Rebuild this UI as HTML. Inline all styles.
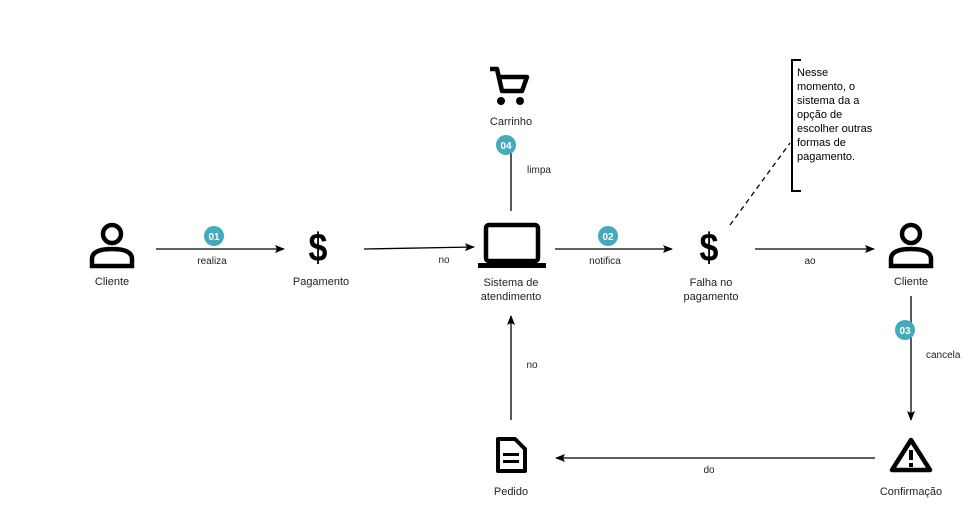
<!DOCTYPE html>
<html><head><style>body{margin:0;background:#fff}svg{display:block;font-family:"Liberation Sans",Helvetica,sans-serif}</style></head><body>
<svg width="971" height="517" viewBox="0 0 971 517">
<defs><marker id="a" markerWidth="10" markerHeight="8" refX="9" refY="4" orient="auto" markerUnits="userSpaceOnUse"><path d="M0,0 L10,4 L0,8 L2,4z" fill="#000"/></marker></defs>
<g stroke="#000" stroke-width="1.3" fill="none">
<line x1="156" y1="249" x2="284" y2="249" marker-end="url(#a)"/>
<line x1="364" y1="249" x2="474" y2="247" marker-end="url(#a)"/>
<line x1="555" y1="249" x2="672" y2="249" marker-end="url(#a)"/>
<line x1="755" y1="249" x2="874" y2="249" marker-end="url(#a)"/>
<line x1="911" y1="296" x2="911" y2="420" marker-end="url(#a)"/>
<line x1="875" y1="458" x2="556" y2="458" marker-end="url(#a)"/>
<line x1="511" y1="420" x2="511" y2="316" marker-end="url(#a)"/>
<line x1="511" y1="211" x2="511" y2="140"/>
<line x1="730" y1="225" x2="790" y2="143" stroke-dasharray="5,4"/>
<path d="M801,60 H792 V191 H801" stroke-width="2"/>
</g>
<g fill="none" stroke="#000" stroke-width="4.5">
<circle cx="112" cy="234" r="9"/><path d="M92,266 V259 Q92,249 112,249 Q132,249 132,259 V266 Z"/>
<circle cx="911" cy="234" r="9"/><path d="M891,266 V259 Q891,249 911,249 Q931,249 931,259 V266 Z"/>
</g>
<rect x="486" y="225" width="52" height="36" rx="3" fill="none" stroke="#000" stroke-width="4.5"/>
<rect x="478" y="263" width="68" height="5" fill="#000"/>
<text x="318" y="261" font-size="40" text-anchor="middle" font-weight="bold" transform="translate(318 0) scale(0.85 1) translate(-318 0)">$</text>
<text x="709" y="261" font-size="40" text-anchor="middle" font-weight="bold" transform="translate(709 0) scale(0.85 1) translate(-709 0)">$</text>
<g fill="none" stroke="#000" stroke-width="4.5" stroke-linejoin="round"><path d="M490,69 H497 L502,91 H522 L527,77 H499"/></g>
<circle cx="501" cy="101" r="4"/><circle cx="520" cy="101" r="4"/>
<path d="M498,439 H515 L525,449 V471 H498 Z" fill="none" stroke="#000" stroke-width="4" stroke-linejoin="round"/>
<rect x="503" y="453" width="16" height="3"/><rect x="503" y="460" width="16" height="3"/>
<path d="M911,440 L930,470 H892 Z" fill="none" stroke="#000" stroke-width="4.5" stroke-linejoin="round"/>
<rect x="909" y="450" width="4" height="10"/><rect x="909" y="463" width="4" height="4"/>
<g fill="#43abbb"><circle cx="214" cy="236" r="10"/><circle cx="608" cy="236" r="10"/><circle cx="905" cy="330" r="10"/><circle cx="506" cy="145" r="10"/></g>
<g fill="#fff" font-size="10" font-weight="bold" text-anchor="middle"><text x="214" y="240">01</text><text x="608" y="240">02</text><text x="905" y="334">03</text><text x="506" y="149">04</text></g>
<g font-size="11" fill="#222" text-anchor="middle">
<text x="112" y="285">Cliente</text><text x="321" y="285">Pagamento</text>
<text x="511" y="286">Sistema de</text><text x="511" y="300">atendimento</text>
<text x="711" y="286">Falha no</text><text x="711" y="300">pagamento</text>
<text x="911" y="285">Cliente</text><text x="911" y="495">Confirmação</text>
<text x="511" y="495">Pedido</text><text x="511" y="125">Carrinho</text>
</g>
<g font-size="10" fill="#222" text-anchor="middle">
<text x="212" y="264">realiza</text><text x="444" y="263">no</text><text x="605" y="264">notifica</text>
<text x="810" y="264">ao</text><text x="709" y="473">do</text><text x="532" y="368">no</text><text x="539" y="173">limpa</text>
<text x="926" y="358" text-anchor="start">cancela</text>
</g>
<g font-size="11" fill="#000">
<text x="797" y="76">Nesse</text><text x="797" y="90">momento, o</text><text x="797" y="104">sistema da a</text><text x="797" y="118">opção de</text><text x="797" y="132">escolher outras</text><text x="797" y="146">formas de</text><text x="797" y="160">pagamento.</text>
</g>
</svg>
</body></html>
